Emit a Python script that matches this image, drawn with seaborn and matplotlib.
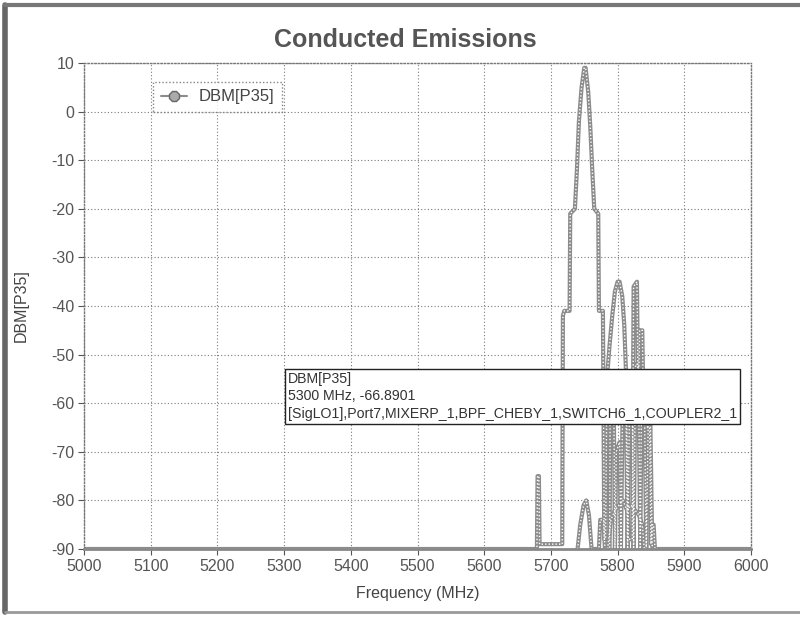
import matplotlib
matplotlib.use("Agg")
import matplotlib.pyplot as plt
from matplotlib.lines import Line2D
import seaborn as sns
import pandas as pd

# ---------------- data ----------------
title = "Conducted Emissions"
series_name = "DBM[P35]"
x_label = "Frequency (MHz)"
y_label = "DBM[P35]"
x_ticks = [5000, 5100, 5200, 5300, 5400, 5500, 5600, 5700, 5800, 5900, 6000]
y_ticks = [10, 0, -10, -20, -30, -40, -50, -60, -70, -80, -90]

# main sweep (carrier, shoulders and upper spurs)
sweep_a_freq = [5000, 5679, 5680, 5682, 5683, 5717, 5718, 5720, 5728, 5729, 5736,
                5739, 5742, 5746, 5750, 5752, 5756, 5759, 5762, 5765, 5771, 5772,
                5778, 5780, 5782, 5784, 5788, 5792, 5796, 5800, 5803, 5807, 5810,
                5813, 5816, 5822, 5824, 5829, 5831, 5833, 5837, 5839, 5845, 5848,
                5850, 5852, 5854, 5856, 6000]
sweep_a_dbm = [-90, -90, -75, -75, -89, -89, -42, -41, -41, -21, -20,
               -12, -2, 5, 9, 9, 4, -3, -12, -20, -21, -41,
               -41, -88, -88, -55, -48, -42, -37, -35, -35, -38, -44,
               -55, -88, -88, -36, -35, -60, -45, -45, -62, -65, -65,
               -89, -85, -85, -90, -90]

# lower spurs
sweep_b_freq = [5740, 5744, 5749, 5753, 5757, 5761, 5772, 5774, 5779, 5781, 5788,
                5789, 5794, 5796, 5798, 5803, 5805, 5808, 5812, 5815, 5818, 5822,
                5824, 5827, 5831, 5834, 5836, 5840, 5843, 5846, 5849, 5852]
sweep_b_dbm = [-90, -85, -81, -80, -83, -90, -90, -84, -84, -90, -90,
               -56, -55, -90, -70, -68, -90, -56, -55, -90, -60, -58,
               -90, -52, -52, -90, -58, -58, -90, -63, -63, -90]

# lowest hump under the cluster
sweep_c_freq = [5785, 5790, 5796, 5802, 5808, 5814, 5820, 5826, 5832, 5837, 5840]
sweep_c_dbm = [-90, -84, -82, -81, -80, -82, -81, -82, -83, -85, -90]

tooltip_lines = ["DBM[P35]", "5300 MHz, -66.8901",
                 "[SigLO1],Port7,MIXERP_1,BPF_CHEBY_1,SWITCH6_1,COUPLER2_1"]

# ---------------- build table ----------------
frames = []
for name, f, d in (("A", sweep_a_freq, sweep_a_dbm),
                   ("B", sweep_b_freq, sweep_b_dbm),
                   ("C", sweep_c_freq, sweep_c_dbm)):
    frames.append(pd.DataFrame({"freq": f, "dbm": d, "sweep": name}))
df = pd.concat(frames, ignore_index=True)

# ---------------- style ----------------
sns.set_theme(style="white")
plt.rcParams["font.family"] = ["Liberation Sans", "DejaVu Sans"]

W, H = 800, 617
fig = plt.figure(figsize=(W / 100, H / 100), dpi=100)
fig.patch.set_facecolor("white")

ax = fig.add_axes([84 / W, 1 - 549 / H, (751 - 84) / W, (549 - 63) / H])
ax.set_facecolor("white")

trace_color = "#8c8c8c"
sns.lineplot(data=df, x="freq", y="dbm", units="sweep", estimator=None,
             sort=False, color=trace_color, linewidth=3.0, ax=ax, legend=False)
sns.lineplot(data=df, x="freq", y="dbm", units="sweep", estimator=None,
             sort=False, color="white", linewidth=1.0, ax=ax, legend=False,
             linestyle=(0, (1, 1.5)))

ax.set_xlim(5000, 6000)
ax.set_ylim(-90, 10)
ax.set_xticks(x_ticks)
ax.set_yticks(y_ticks)
ax.set_xticklabels([str(t) for t in x_ticks])
ax.set_yticklabels([str(t) for t in y_ticks])
ax.tick_params(axis="both", labelsize=11.5, colors="#555555", length=4, width=0.8,
               direction="out", pad=3)
ax.tick_params(axis="both", bottom=True, left=True)

ax.grid(True, color="#7a7a7a", linestyle=(0, (1, 2)), linewidth=0.8)
for side, sp in ax.spines.items():
    sp.set_visible(True)
    sp.set_color("#777777")
    sp.set_linestyle((0, (1, 1.5)))
    sp.set_linewidth(1.0)
ax.spines["bottom"].set_linestyle("-")
ax.spines["bottom"].set_color("#888888")
ax.spines["bottom"].set_linewidth(2.0)

ax.set_xlabel(x_label, fontsize=11.5, color="#444444", labelpad=9)
ax.set_ylabel(y_label, fontsize=11.5, color="#444444", labelpad=16)

fig.text(0.507, 1 - 40 / H, title, ha="center", va="center", fontsize=18,
         fontweight="bold", color="#555555")

# legend
handle = Line2D([0], [0], color=trace_color, linewidth=1.5, marker="8",
                markersize=8, markerfacecolor="#aaaaaa", markeredgecolor="#666666")
leg = ax.legend([handle], [series_name], loc="upper left",
                bbox_to_anchor=((153 - 84) / (751 - 84), 1 - (82 - 63) / (549 - 63)),
                borderaxespad=0, fontsize=12, frameon=True, fancybox=False,
                handlelength=1.6, handletextpad=0.7, borderpad=0.45,
                labelcolor="#444444")
leg.get_frame().set_edgecolor("#666666")
leg.get_frame().set_linestyle((0, (1, 1.5)))
leg.get_frame().set_linewidth(1.0)

# tooltip box
ax.text(5306, -53.6, "\n".join(tooltip_lines), ha="left", va="top", fontsize=10.2,
        color="#333333", linespacing=1.3,
        bbox=dict(boxstyle="square,pad=0.2", facecolor="white",
                  edgecolor="#222222", linewidth=1.0), zorder=5)

# scanned outer frame
fig.add_artist(Line2D([0.006, 0.006], [0.008, 0.992], transform=fig.transFigure,
                      color="#666666", linewidth=4))
fig.add_artist(Line2D([0.006, 1.0], [0.992, 0.992], transform=fig.transFigure,
                      color="#777777", linewidth=3))
fig.add_artist(Line2D([0.006, 1.0], [0.008, 0.008], transform=fig.transFigure,
                      color="#999999", linewidth=2))

fig.savefig("out.png", dpi=100, facecolor="white")
